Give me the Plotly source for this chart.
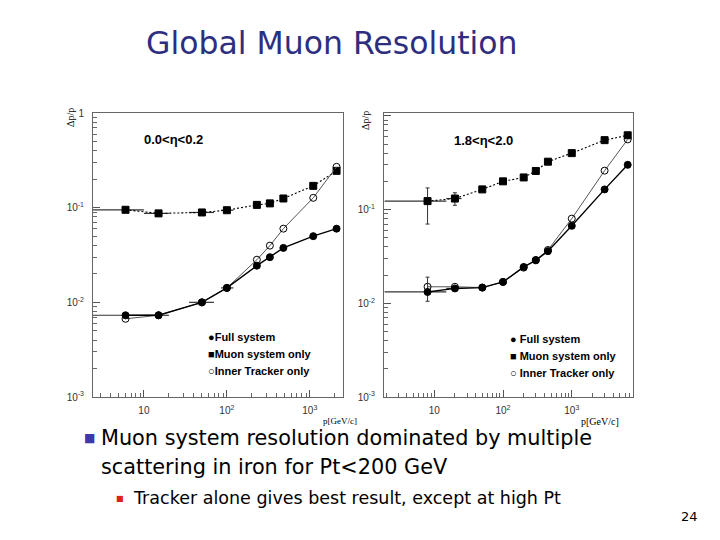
import plotly.graph_objects as go

# ---------------- data ----------------
# left panel: 0.0 < eta < 0.2
xL = [6, 15, 50, 100, 230, 330, 480, 1100, 2100]
fullL = [0.0073, 0.0073, 0.0100, 0.0142, 0.0244, 0.0300, 0.0376, 0.050, 0.060]
muonL = [0.095, 0.087, 0.089, 0.094, 0.107, 0.111, 0.125, 0.170, 0.245]
innerL = [0.0067, 0.0073, 0.0100, 0.0142, 0.0282, 0.0397, 0.060, 0.127, 0.27]
exL_minus = [3.6, 5, 15, 15, 20, 0, 0, 0, 0]
exL_plus = [4, 5, 20, 20, 20, 0, 0, 0, 0]

# right panel: 1.8 < eta < 2.0
xR = [8, 20, 50, 100, 200, 300, 450, 1000, 3000, 6500]
fullR = [0.0132, 0.0144, 0.0147, 0.0169, 0.0244, 0.0287, 0.036, 0.067, 0.164, 0.30]
muonR = [0.123, 0.131, 0.164, 0.200, 0.220, 0.258, 0.324, 0.40, 0.55, 0.62]
innerR = [0.0150, 0.0150, 0.0147, 0.0169, 0.0240, 0.029, 0.037, 0.080, 0.26, 0.56]
exR_minus = [6.1, 5, 0, 0, 0, 0, 0, 0, 0, 0]
exR_plus = [7, 5, 0, 0, 0, 0, 0, 0, 0, 0]
eyR_muon_minus = [0.053, 0.02, 0, 0, 0, 0, 0, 0, 0, 0]
eyR_muon_plus = [0.047, 0.02, 0, 0, 0, 0, 0, 0, 0, 0]
eyR_full_minus = [0.0027, 0, 0, 0, 0, 0, 0, 0, 0, 0]
eyR_full_plus = [0.0058, 0, 0, 0, 0, 0, 0, 0, 0, 0]

legend_labels = ["Full system", "Muon system only", "Inner Tracker only"]
panel_labels = ["0.0<\u03b7<0.2", "1.8<\u03b7<2.0"]

x_major = [10, 100, 1000]
x_major_text = ["10", "10<sup>2</sup>", "10<sup>3</sup>"]
y_major = [1, 0.1, 0.01, 0.001]
y_major_text_L = ["1", "10<sup>-1</sup>", "10<sup>-2</sup>", "10<sup>-3</sup>"]
y_major_text_R = ["", "10<sup>-1</sup>", "10<sup>-2</sup>", "10<sup>-3</sup>"]
minor_vals = [m * 10 ** e for e in range(-3, 4) for m in range(2, 10)]

title = "Global Muon Resolution"
bullet1 = ["Muon system resolution dominated by multiple",
           "scattering in iron for Pt<200 GeV"]
bullet2 = "Tracker alone gives best result, except at high Pt"
page_no = "24"

# ---------------- figure ----------------
fig = go.Figure()

def add_series(x, y, xa, ya, sym, dash, width, color, ex_m=None, ex_p=None, ey_m=None, ey_p=None, lcolor="black"):
    kw = {}
    if ex_m is not None:
        kw["error_x"] = dict(type="data", symmetric=False, array=ex_p, arrayminus=ex_m,
                             color="#333", thickness=1.2, width=0)
    if ey_m is not None:
        kw["error_y"] = dict(type="data", symmetric=False, array=ey_p, arrayminus=ey_m,
                             color="#333", thickness=1, width=2)
    fig.add_trace(go.Scatter(
        x=x, y=y, xaxis=xa, yaxis=ya, mode="lines+markers",
        line=dict(color=lcolor, width=width, dash=dash),
        marker=dict(symbol=sym, size=7, color=color,
                    line=dict(color="black", width=1)),
        showlegend=False, **kw))

# left
add_series(xL, muonL, "x", "y", "square", "2px,2px", 1.1, "black", exL_minus, exL_plus)
add_series(xL, innerL, "x", "y", "circle-open", "solid", 1.0, "black", lcolor="#555")
add_series(xL, fullL, "x", "y", "circle", "solid", 1.4, "black", exL_minus, exL_plus)
# right
add_series(xR, muonR, "x2", "y2", "square", "2px,2px", 1.1, "black", exR_minus, exR_plus,
           eyR_muon_minus, eyR_muon_plus)
add_series(xR, innerR, "x2", "y2", "circle-open", "solid", 1.0, "black", lcolor="#555")
add_series(xR, fullR, "x2", "y2", "circle", "solid", 1.4, "black", exR_minus, exR_plus,
           eyR_full_minus, eyR_full_plus)

W, H = 720, 540
def px(x):
    return x / W
def py(y):
    return 1 - y / H

tickfont = dict(family="Liberation Sans, Arial", size=10, color="#333")
common = dict(type="log", showline=True, mirror=True, linecolor="#666", linewidth=1,
              showgrid=False, zeroline=False, ticks="inside", ticklen=7, tickcolor="#555",
              automargin=False,
              tickfont=tickfont, minor=dict(tickvals=minor_vals, ticks="inside", ticklen=4,
                                            tickcolor="#666", showgrid=False))

fig.update_layout(
    width=W, height=H, margin=dict(l=0, r=0, t=0, b=0, autoexpand=False),
    paper_bgcolor="white", plot_bgcolor="white",
    xaxis=dict(domain=[px(93), px(343)], range=[0.386, 3.40], anchor="y", ticklabelstandoff=4,
               tickmode="array", tickvals=x_major, ticktext=x_major_text, **common),
    yaxis=dict(domain=[py(397), py(113)], range=[-3, 0], anchor="x", ticklabelstandoff=6,
               tickmode="array", tickvals=y_major, ticktext=y_major_text_L, **common),
    xaxis2=dict(domain=[px(384), px(633)], range=[0.27, 3.89], anchor="y2", ticklabelstandoff=4,
                tickmode="array", tickvals=x_major, ticktext=x_major_text, **common),
    yaxis2=dict(domain=[py(397), py(113)], range=[-3, 0.03], anchor="x2", ticklabelstandoff=6,
                tickmode="array", tickvals=y_major, ticktext=y_major_text_R, **common),
)

ann = []
def text(x, y, s, size, color="black", family="DejaVu Sans", xanchor="left", **kw):
    ann.append(dict(x=px(x), y=py(y), xref="paper", yref="paper", text=s, showarrow=False,
                    xanchor=xanchor, yanchor="middle",
                    font=dict(family=family, size=size, color=color), **kw))

text(331, 43, title, 31.5, color="#2e2e80", xanchor="center")
text(82, 438, "\u25a0", 12, color="#3a3aa8")
text(99, 438, bullet1[0], 20.8)
text(99, 467, bullet1[1], 20.8)
text(114, 498, "\u25a0", 8, color="#e02020")
text(131, 498, bullet2, 17.5)
text(689, 516, page_no, 13, xanchor="center")

# panel labels
text(142, 139, "<b>" + panel_labels[0] + "</b>", 13, family="Liberation Sans, Arial")
text(452, 140, "<b>" + panel_labels[1] + "</b>", 13, family="Liberation Sans, Arial")

# axis titles
text(70, 118, "\u0394p/p", 10, family="Liberation Serif", xanchor="center", textangle=-90)
text(365, 121, "\u0394p/p", 10, family="Liberation Serif", xanchor="center", textangle=-90)
text(321, 421, "p[GeV/c]", 9, family="Liberation Serif")
text(600, 421, "p[GeV/c]", 10, family="Liberation Serif", xanchor="center")

# legends
symbols = ["\u25cf", "\u25a0", "\u25cb"]
for i, (s, lab) in enumerate(zip(symbols, legend_labels)):
    text(206, 337 + 17 * i, s + "<b>" + lab + "</b>", 11, family="Liberation Sans, Arial")
    text(508, 339 + 17 * i, s + " <b>" + lab + "</b>", 11, family="Liberation Sans, Arial")

fig.update_layout(annotations=ann)
fig.write_html("out.html", post_script="document.body.style.margin='0px';",
               config={"displayModeBar": False})
